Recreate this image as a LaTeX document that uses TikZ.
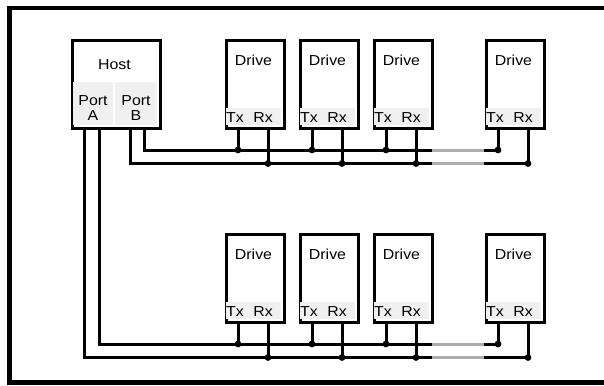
\documentclass[tikz,border=0pt]{standalone}
\usepackage{fontspec}
\setmainfont[FakeStretch=1.1]{Liberation Sans}
\begin{document}
\begin{tikzpicture}[x=1bp,y=-1bp,
  box/.style={draw, line width=3.4bp, fill=white, minimum width=58bp, minimum height=88bp, anchor=north west, inner sep=0pt},
  hostbox/.style={box, minimum width=88bp},
  strip/.style={fill=black!6},
  lbl/.style={anchor=base, inner sep=0pt, font=\fontsize{14.5}{16}\selectfont},
  wire/.style={line width=3bp},
  gapwire/.style={line width=3bp, draw=black!32},
  frame/.style={line width=4.5bp},
  dot/.style={fill=black}]
\useasboundingbox (0,0) rectangle (604,385);
\coordinate (fr1) at (604,8);
\coordinate (fr2) at (9.5,8);
\coordinate (fr3) at (9.5,382.5);
\coordinate (fr4) at (604,382.5);
\draw[frame] (fr1) -- (fr2) -- (fr3) -- (fr4);
% host
\node[hostbox] (host) at (70.5,38.5) {};
\fill[strip] (72.5,82) rectangle (113,125);
\fill[strip] (115,82) rectangle (157,125);
\node[lbl] (hostlbl) at (114.5,69) {Host};
\node[lbl] (portA1) at (93,105) {Port};
\node[lbl] (portA2) at (93,120) {A};
\node[lbl] (portB1) at (136,105) {Port};
\node[lbl] (portB2) at (136,120) {B};
\coordinate (pArx) at (84,128);
\coordinate (pAtx) at (99,128);
\coordinate (pBrx) at (130,128);
\coordinate (pBtx) at (144,128);
% drives
\foreach \r/\dy in {t/0,b/194}{
  \foreach \i/\L in {1/223,2/297,3/371,4/483}{
    \node[box] (d\r\i) at (\L+1.5,38.5+\dy) {};
    \fill[strip] (\L+3,108+\dy) rectangle (\L+58,125+\dy);
    \node[lbl] (d\r\i name) at (\L+30.5,65+\dy) {Drive};
    \node[lbl] (d\r\i txl) at (\L+12,122+\dy) {Tx};
    \node[lbl] (d\r\i rxl) at (\L+40,122+\dy) {Rx};
    \coordinate (d\r\i tx) at (\L+15,128+\dy);
    \coordinate (d\r\i rx) at (\L+45,128+\dy);
    \coordinate (j\r\i tx) at (\L+15,150+\dy);
    \coordinate (j\r\i rx) at (\L+45,163.5+\dy);
    \draw[wire] (d\r\i tx) -- (j\r\i tx);
    \draw[wire] (d\r\i rx) -- (j\r\i rx);
  }
  \coordinate (g\r tx1) at (432,150+\dy);
  \coordinate (g\r tx2) at (484,150+\dy);
  \coordinate (g\r rx1) at (432,163.5+\dy);
  \coordinate (g\r rx2) at (484,163.5+\dy);
  \draw[gapwire] (g\r tx1) -- (g\r tx2);
  \draw[gapwire] (g\r rx1) -- (g\r rx2);
  \draw[wire] (g\r tx2) -- (j\r4tx);
  \draw[wire] (g\r rx2) -- (j\r4rx);
}
% top bus from port B
\draw[wire] (pBtx) |- (gttx1);
\draw[wire] (pBrx) |- (gtrx1);
% bottom bus from port A
\draw[wire] (pAtx) |- (gbtx1);
\draw[wire] (pArx) |- (gbrx1);
% junction dots
\foreach \r in {t,b}{
  \foreach \i in {1,2,3,4}{
    \fill[dot] (j\r\i tx) circle (3.4bp);
    \fill[dot] (j\r\i rx) circle (3.4bp);
  }
}
\end{tikzpicture}
\end{document}
